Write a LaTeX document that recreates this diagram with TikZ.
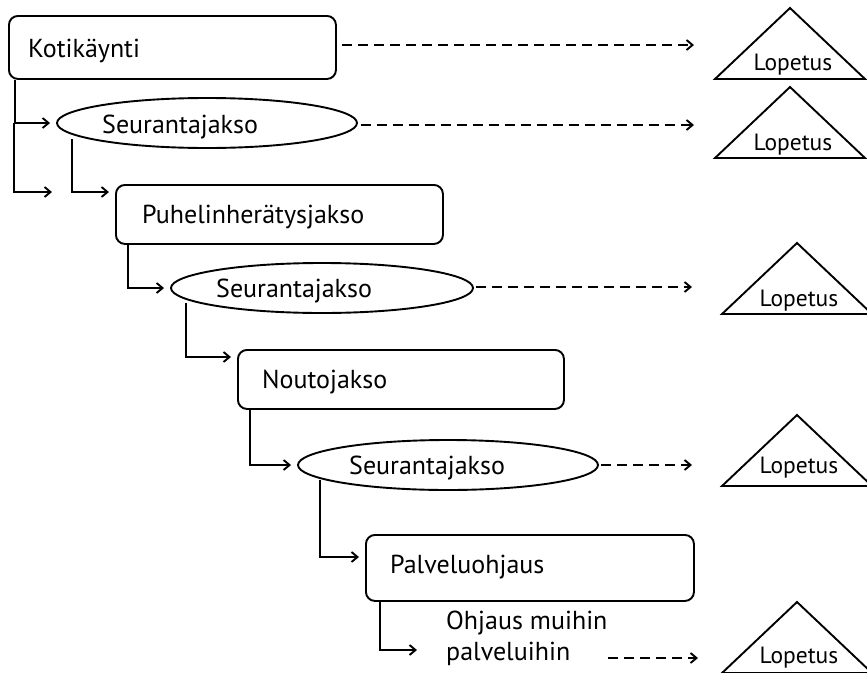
\documentclass[tikz,border=0pt]{standalone}
\usepackage{fontspec}
\setmainfont{PT Sans}
\usetikzlibrary{shapes.geometric,arrows.meta}
\begin{document}
\begin{tikzpicture}[x=1pt,y=-1pt,
  lw/.style={line width=1.9pt},
  box/.style={draw,lw,rounded corners=9pt,inner sep=0pt,anchor=north west},
  oval/.style={draw,lw,ellipse,inner sep=0pt},
  conn/.style={lw,-{Straight Barb[length=6pt,width=10pt,line width=1.9pt]}},
  dasharr/.style={lw,dash pattern=on 10pt off 6pt,-{Straight Barb[length=6pt,width=10pt,line width=1.9pt]}},
  tri/.style={lw,line join=miter},
  lbl/.style={inner sep=0pt,anchor=base west,font=\fontsize{26}{31}\selectfont},
  tlbl/.style={inner sep=0pt,anchor=base,font=\fontsize{23.5}{29}\selectfont}
]
\useasboundingbox (0,0) rectangle (867,672);
% boxes
\node[box,minimum width=327pt,minimum height=63pt] (b1) at (8,15) {};
\node[lbl] (t1) at (28,57) {Kotikäynti};
\node[box,minimum width=327pt,minimum height=59pt] (b2) at (115,184) {};
\node[lbl] (t2) at (142,223) {Puhelinherätysjakso};
\node[box,minimum width=326pt,minimum height=59pt] (b3) at (237,349) {};
\node[lbl] (t3) at (262,388) {Noutojakso};
\node[box,minimum width=328pt,minimum height=66pt] (b4) at (365,534) {};
\node[lbl] (t4) at (390,573) {Palveluohjaus};
% ellipses
\node[oval,minimum width=300pt,minimum height=50pt] (e1) at (207,123) {};
\node[lbl] (s1) at (102,133) {Seurantajakso};
\node[oval,minimum width=302pt,minimum height=50pt] (e2) at (322,288) {};
\node[lbl] (s2) at (216,297) {Seurantajakso};
\node[oval,minimum width=300pt,minimum height=50pt] (e3) at (448,465) {};
\node[lbl] (s3) at (349,474) {Seurantajakso};
\node[lbl,anchor=base west] (oh1) at (446,629) {Ohjaus muihin};
\node[lbl,anchor=base west] (oh2) at (446,660) {palveluihin};
% triangles
\foreach \n/\xa/\ya/\lx/\ly in {1/790/8/793/70, 2/790/87/793/150, 3/797/243/799/306, 4/797/415/799/473, 5/797/602/799/663}{
  \draw[tri] (\xa-75,\ya+71) -- (\xa,\ya) -- (\xa+75,\ya+71) -- cycle;
  \node[tlbl] (L\n) at (\lx,\ly) {Lopetus};
}
\coordinate (A1) at (694,45);
\coordinate (A2) at (694,125);
\coordinate (A3) at (692,287);
\coordinate (A4) at (692,465);
\coordinate (A5) at (698,658);
% dashed arrows
\draw[dasharr] (b1.east |- 0,45) ++(5,0) -- (A1);
\draw[dasharr] (e1.east) ++(3,2) -- (A2);
\draw[dasharr] (e2.east) ++(2,-1) -- (A3);
\draw[dasharr] (e3.east) ++(2,0) -- (A4);
\draw[dasharr] (608,658) -- (A5);
% solid connectors
\coordinate (f1) at (52,192);
\draw[conn] (b1.south west) ++(7,0) |- ([xshift=-6pt]e1.west);
\draw[conn] (14,123) |- (f1);
\draw[conn] (72,139) |- ([xshift=-6pt]b2.west |- 0,192);
\draw[conn] (b2.south west) ++(13,0) |- ([xshift=-6pt]e2.west);
\draw[conn] (186,303) |- ([xshift=-6pt]b3.west |- 0,357);
\draw[conn] (b3.south west) ++(13,0) |- ([xshift=-6pt]e3.west);
\draw[conn] (320,480) |- ([xshift=-6pt]b4.west |- 0,557);
\draw[conn] (b4.south west) ++(15,0) |- (417,650);
\end{tikzpicture}
\end{document}
